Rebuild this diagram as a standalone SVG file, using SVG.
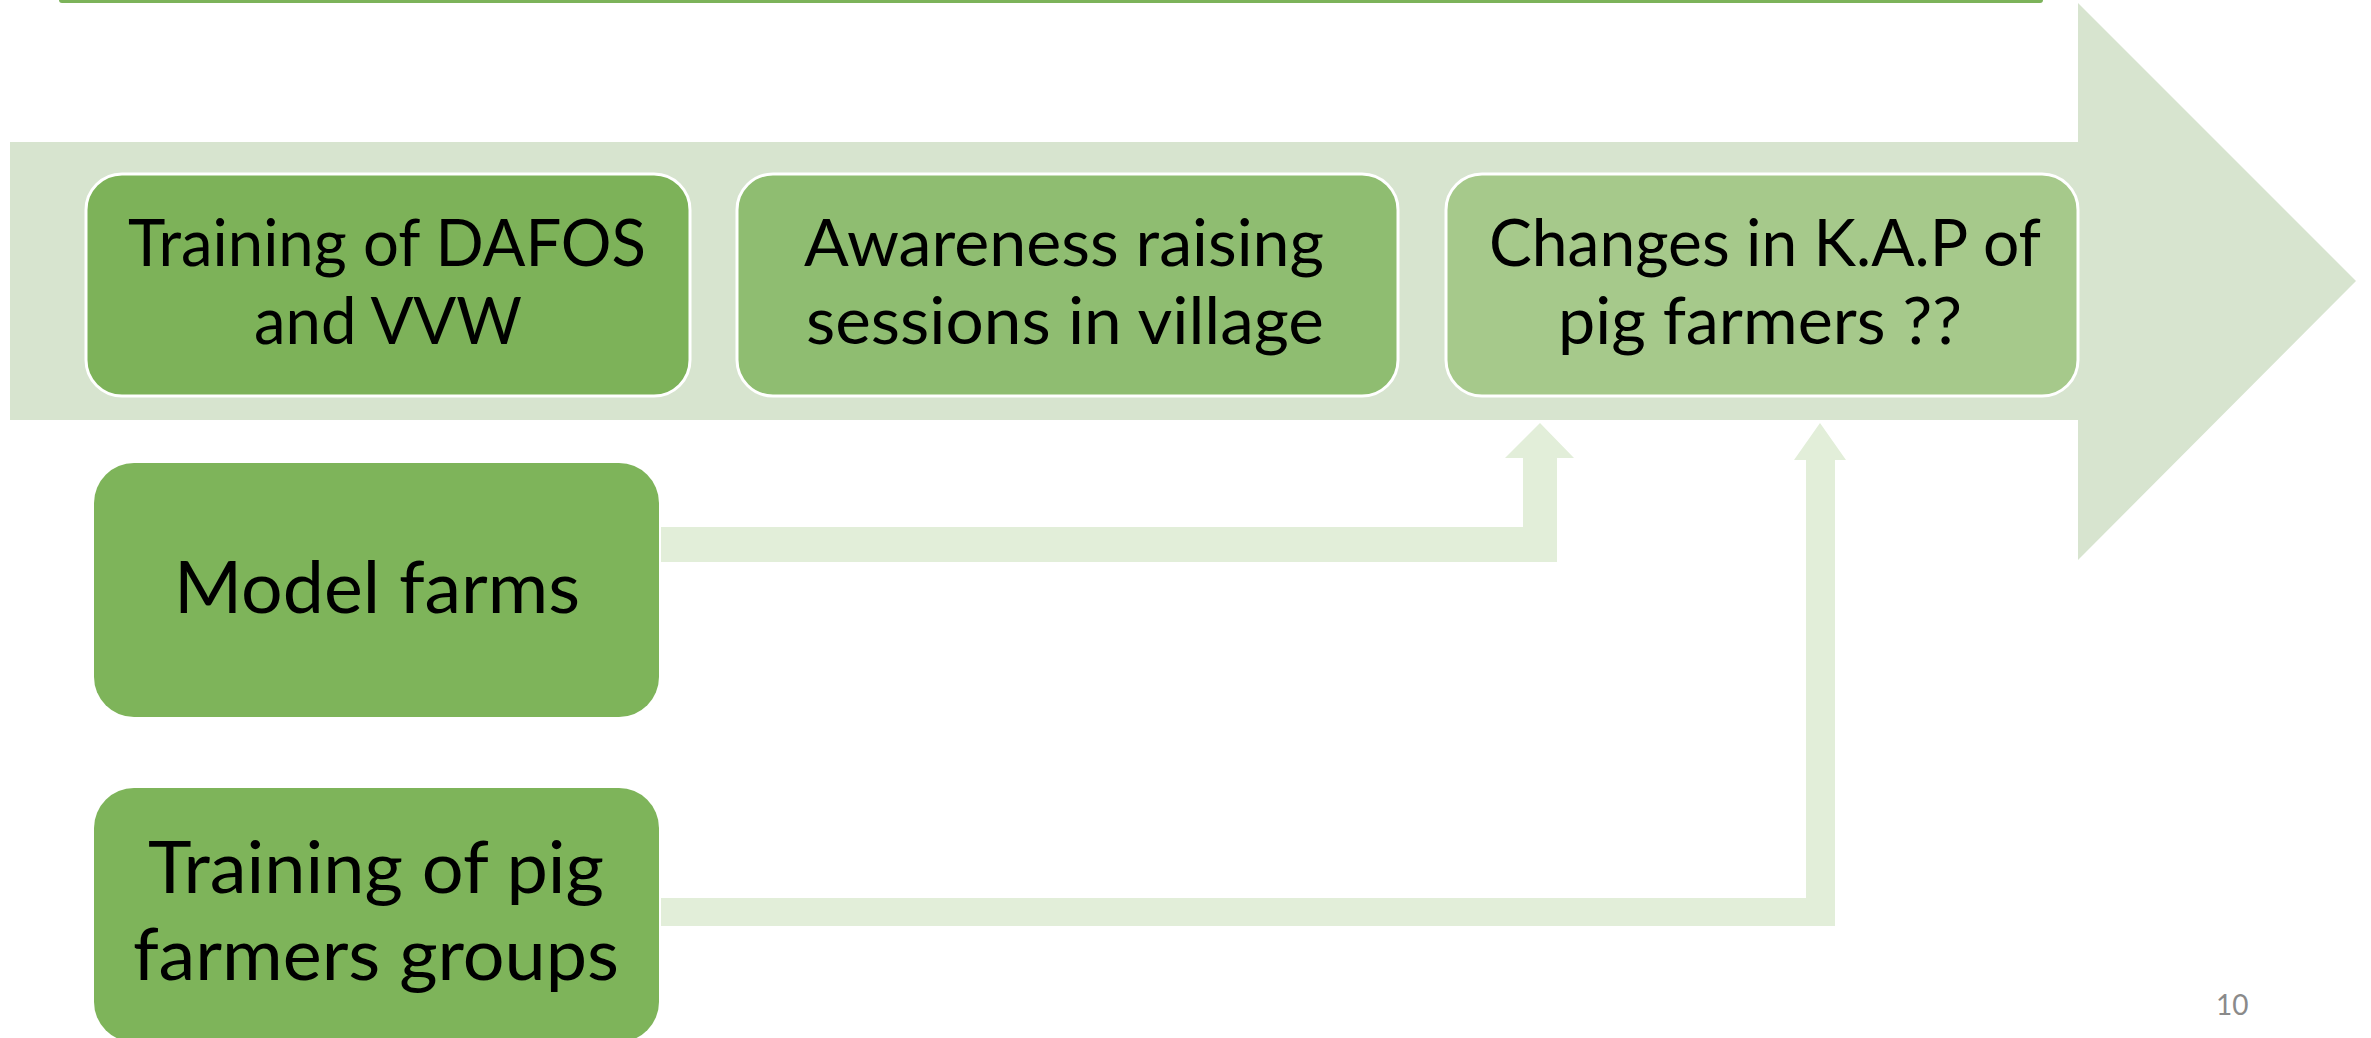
<svg xmlns="http://www.w3.org/2000/svg" width="2371" height="1038" viewBox="0 0 2371 1038">
  <style>
    .box-dark { fill: #7db259; stroke: #ffffff; stroke-width: 3; }
    .box-mid { fill: #8fbd71; stroke: #ffffff; stroke-width: 3; }
    .box-light { fill: #a6c98b; stroke: #ffffff; stroke-width: 3; }
    .box-side { fill: #7eb45a; }
    .lbl { font-family: Lato, "Liberation Sans", sans-serif; fill: #000000; text-anchor: middle; }
    .lbl-top { font-size: 65px; }
    .lbl-side { font-size: 72px; }
    .conn { fill: #e2eed9; }
    .page { font-family: Lato, "Liberation Sans", sans-serif; font-size: 28px; fill: #8a8a8a; }
  </style>

  <rect width="2371" height="1038" fill="#ffffff"/>

  <!-- lower edge of the title bar -->
  <rect x="59" y="-3" width="1984" height="6" rx="3" fill="#7cb35a"/>

  <!-- process arrow behind the three stages -->
  <polygon id="process-arrow" points="10,142 2078,142 2078,3 2356,281 2078,560 2078,420 10,420" fill="#d7e4cf"/>

  <!-- connectors -->
  <g id="connectors">
    <polygon class="conn" points="661,527 1523,527 1523,458 1505,458 1540,423 1574,458 1557,458 1557,562 661,562"/>
    <polygon class="conn" points="661,898 1806,898 1806,460 1794,460 1820,423 1846,460 1835,460 1835,926 661,926"/>
  </g>

  <g id="training-dafos">
    <rect class="box-dark" x="86" y="174" width="604" height="222" rx="36"/>
    <text class="lbl lbl-top" x="387" y="266" textLength="518" lengthAdjust="spacingAndGlyphs">Training of DAFOS</text>
    <text class="lbl lbl-top" x="388" y="344" textLength="268" lengthAdjust="spacingAndGlyphs">and VVW</text>
  </g>

  <g id="awareness-sessions">
    <rect class="box-mid" x="737" y="174" width="661" height="222" rx="36"/>
    <text class="lbl lbl-top" x="1064" y="266" textLength="520" lengthAdjust="spacingAndGlyphs">Awareness raising</text>
    <text class="lbl lbl-top" x="1065" y="344" textLength="518" lengthAdjust="spacingAndGlyphs">sessions in village</text>
  </g>

  <g id="kap-changes">
    <rect class="box-light" x="1446" y="174" width="632" height="222" rx="36"/>
    <text class="lbl lbl-top" x="1765" y="266" textLength="552" lengthAdjust="spacingAndGlyphs">Changes in K.A.P of</text>
    <text class="lbl lbl-top" x="1760" y="344" textLength="404" lengthAdjust="spacingAndGlyphs">pig farmers ??</text>
  </g>

  <g id="model-farms">
    <rect class="box-side" x="94" y="463" width="565" height="254" rx="40"/>
    <text class="lbl lbl-side" x="377" y="613" textLength="406" lengthAdjust="spacingAndGlyphs">Model farms</text>
  </g>

  <g id="training-pig-farmers">
    <rect class="box-side" x="94" y="788" width="565" height="254" rx="40"/>
    <text class="lbl lbl-side" x="376" y="893" textLength="456" lengthAdjust="spacingAndGlyphs">Training of pig</text>
    <text class="lbl lbl-side" x="376" y="980" textLength="486" lengthAdjust="spacingAndGlyphs">farmers groups</text>
  </g>

  <text class="page" x="2216" y="1015">10</text>
</svg>
